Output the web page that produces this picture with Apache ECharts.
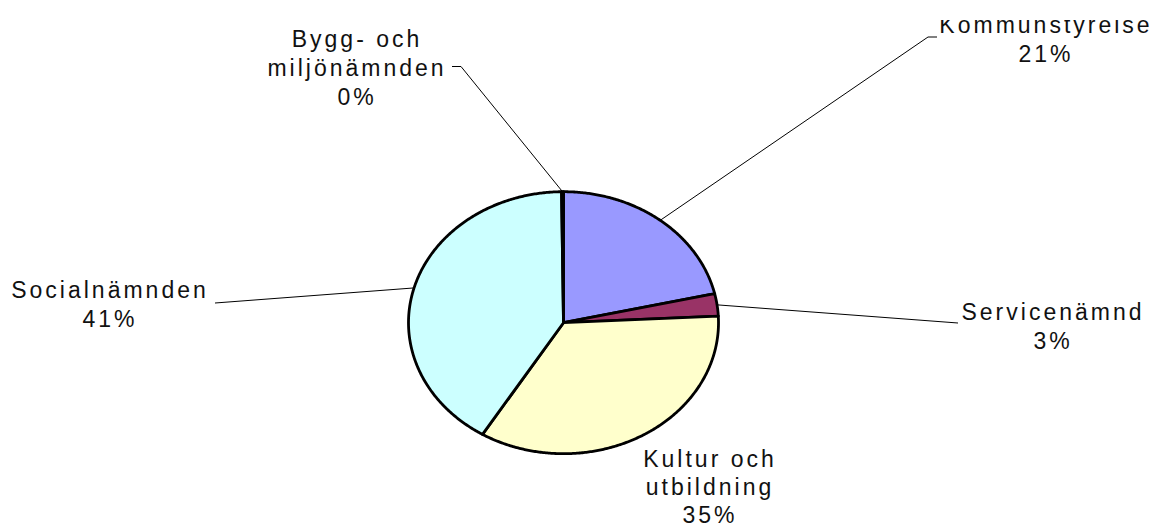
<!DOCTYPE html>
<html>
<head>
<meta charset="utf-8">
<script src="https://cdn.jsdelivr.net/npm/echarts@6/dist/echarts.min.js"></script>
<style>
  html, body { margin: 0; padding: 0; background: #fff; }
  #main { width: 1157px; height: 529px; }
  #main text { letter-spacing: 3px; }
</style>
</head>
<body>
<div id="main"></div>
<script>
// ---- data ----
const categories = ['Kommunstyrelse', 'Servicenämnd', 'Kultur och utbildning', 'Socialnämnden', 'Bygg- och miljönämnden'];
const labelNames = ['Kommunstyrelse', 'Servicenämnd', 'Kultur och\nutbildning', 'Socialnämnden', 'Bygg- och\nmiljönämnden'];
const values = [21.45, 2.75, 34.55, 41.05, 0.2];
const colors = ['#9999FF', '#993366', '#FFFFCC', '#CCFFFF', '#660066'];

// ---- layout (positions only) ----
const pie = { cx: 563.5, cy: 322.7, rx: 155, ry: 131 };
const labelPos = [[1046, 39], [1053, 326], [710, 487], [110, 304], [357, 68]];
const labelLineHeight = [29, 29, 28, 29, 29];
const leaderBends = [
  [[928, 37], [937, 37]],
  [[958, 323]],
  null,
  [[215, 303]],
  [[461, 66.5], [452, 66.5]]
];
const labelClipTop = [20, null, null, null, null];

const total = values.reduce((a, b) => a + b, 0);

function renderItem(params, api) {
  const i = params.dataIndex;
  let before = 0;
  for (let k = 0; k < i; k++) before += values[k];
  const v = api.value(0);
  const a0 = before / total * Math.PI * 2;
  const a1 = (before + v) / total * Math.PI * 2;
  const ex = a => pie.cx + pie.rx * Math.sin(a);
  const ey = a => pie.cy - pie.ry * Math.cos(a);
  const pts = [[pie.cx, pie.cy]];
  const n = Math.max(2, Math.ceil((a1 - a0) / (Math.PI / 360)));
  for (let k = 0; k <= n; k++) {
    const a = a0 + (a1 - a0) * k / n;
    pts.push([ex(a), ey(a)]);
  }
  const children = [{
    type: 'polygon',
    shape: { points: pts },
    style: { fill: colors[i], stroke: '#000', lineWidth: 2.8, lineJoin: 'round' }
  }];
  const mid = (a0 + a1) / 2;
  if (leaderBends[i]) {
    const lp = [[ex(mid), ey(mid)]].concat(leaderBends[i]);
    children.push({
      type: 'polyline',
      shape: { points: lp },
      style: { stroke: '#000', lineWidth: 1, fill: null }
    });
  }
  const pct = Math.round(v / total * 100) + '%';
  const textEl = {
    type: 'text',
    x: labelPos[i][0],
    y: labelPos[i][1],
    style: {
      text: labelNames[i] + '\n' + pct,
      fill: '#111',
      font: '23px "Liberation Sans", Arial, sans-serif',
      align: 'center',
      verticalAlign: 'middle',
      lineHeight: labelLineHeight[i]
    }
  };
  if (labelClipTop[i] != null) {
    children.push({
      type: 'group',
      clipPath: { type: 'rect', shape: { x: 0, y: labelClipTop[i], width: 1157, height: 529 } },
      children: [textEl]
    });
  } else {
    children.push(textEl);
  }
  return { type: 'group', children: children };
}

const chart = echarts.init(document.getElementById('main'), null, { renderer: 'svg' });
chart.setOption({
  animation: false,
  backgroundColor: '#fff',
  series: [{
    type: 'custom',
    coordinateSystem: 'none',
    renderItem: renderItem,
    data: values.map((v, i) => ({ name: categories[i], value: [v] }))
  }]
});
</script>
</body>
</html>
